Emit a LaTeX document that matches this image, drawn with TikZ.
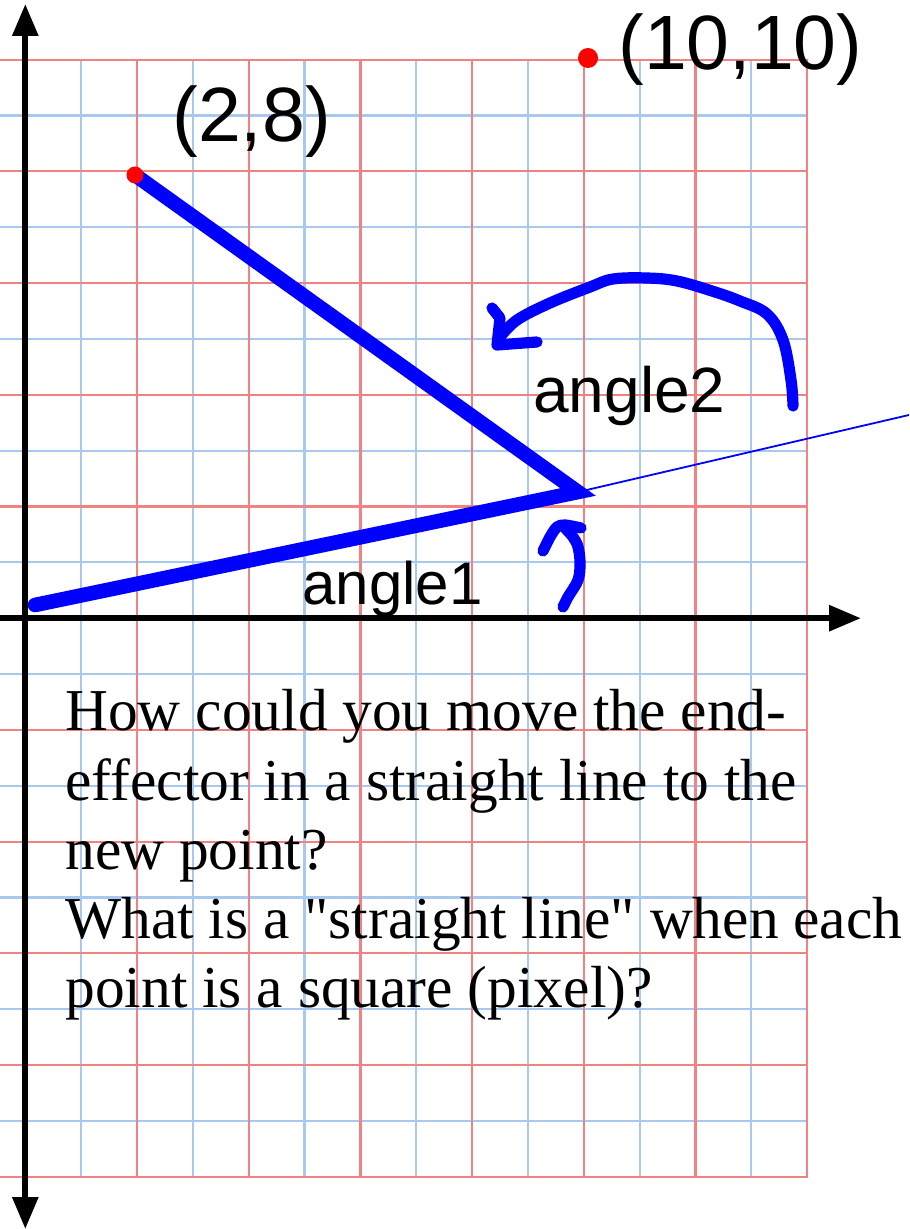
\documentclass[tikz,border=0pt]{standalone}
\usepackage{fontspec}
\setmainfont{Liberation Serif}[Ligatures=TeXOff]
\newfontfamily\arialf{Liberation Sans}
\usetikzlibrary{arrows.meta}
\definecolor{gridred}{RGB}{240,130,130}
\definecolor{gridblue}{RGB}{168,200,238}
\definecolor{penblue}{RGB}{0,0,255}
\definecolor{dotred}{RGB}{255,0,0}
\tikzset{
  gridline/.style={line width=1.1pt},
  axis/.style={line width=3pt, black},
  link/.style={line width=7.3pt, penblue, line cap=round},
  pen/.style={line width=5.6pt, penblue, line cap=round, line join=round},
  thinline/.style={line width=0.9pt, penblue},
  dot/.style={circle, fill=dotred, inner sep=0pt, minimum size=8.5pt},
  coordlabel/.style={font=\arialf\fontsize{38.5}{40}\selectfont, inner sep=0pt, anchor=base west},
  anglelabel/.style={font=\arialf\fontsize{32}{34}\selectfont, inner sep=0pt, anchor=base west},
  question/.style={font=\fontsize{29.7}{34}\selectfont, inner sep=0pt, anchor=base west},
  tip/.style={-{Triangle[length=16pt,width=12.5pt]}}
}
\begin{document}
\begin{tikzpicture}[x=0.5pt,y=-0.5pt]
\useasboundingbox (0,0) rectangle (909,1229);
% grid
\foreach \i in {1,3,...,13}
  \draw[gridline, gridblue] ({25.3+55.85*\i},58.7) -- ({25.3+55.85*\i},1177.7);
\foreach \j in {-9,-7,...,9}
  \draw[gridline, gridblue] (0,{618.2-55.85*\j}) -- (807,{618.2-55.85*\j});
\foreach \i in {0,2,...,14}
  \draw[gridline, gridred] ({25.3+55.85*\i},58.7) -- ({25.3+55.85*\i},1177.7);
\foreach \j in {-10,-8,...,10}
  \draw[gridline, gridred] (0,{618.2-55.85*\j}) -- (807,{618.2-55.85*\j});
% axes
\coordinate (ytop) at (25.3,4);
\coordinate (ybot) at (25.3,1229);
\coordinate (xleft) at (0,618.2);
\coordinate (xright) at (861,618.2);
\coordinate (ymid) at (25.3,618.2);
\draw[axis, tip] (ymid) -- (ytop);
\draw[axis, tip] (ymid) -- (ybot);
\draw[axis, tip] (xleft) -- (xright);
% arm
\coordinate (base) at (35,605);
\coordinate (elbow) at (578,492);
\coordinate (tipp) at (135,175);
\coordinate (far) at (909,415);
\draw[thinline] (elbow) -- (far);
\draw[link] (base) -- (elbow) -- (tipp);
% dots
\node[dot] (d1) at (tipp) {};
\node[dot, minimum size=10pt] (d2) at (588,58) {};
% labels
\node[coordlabel] (l1) at (172,142) {(2,8)};
\node[coordlabel] (l2) at (618,70) {(10,10)};
\node[anglelabel] (a2) at (533,412) {angle2};
\node[anglelabel, font=\arialf\fontsize{30}{32}\selectfont] (a1) at (302,604) {angle1};
% big curved arrow
\draw[pen] plot[smooth, tension=0.6] coordinates {(793,406) (791,380) (783,340) (767,314) (740,301) (712,291) (677,281) (647,278) (613,279) (590,287) (550,303) (517,320) (500,337)};
\draw[pen] (492,308) -- (500,318) -- (497,345) -- (537,342);
% small arrow
\draw[pen] plot[smooth, tension=0.6] coordinates {(563,607) (568,597) (578,580) (580,563) (578,547) (573,537) (565,528)};
\draw[pen] plot[smooth, tension=0.5] coordinates {(543,551) (550,537) (557,527) (565,525) (581,528)};
% question text
\node[question] (q1) at (65,730) {How could you move the end-};
\node[question] (q2) at (65,800) {effector in a straight line to the};
\node[question] (q3) at (65,869) {new point?};
\node[question] (q4) at (65,938) {What is a "straight line" when each};
\node[question] (q5) at (65,1007) {point is a square (pixel)?};
\end{tikzpicture}
\end{document}
